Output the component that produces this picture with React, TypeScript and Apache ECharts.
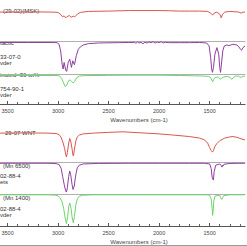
import React, { useEffect, useRef } from "react";
import * as echarts from "echarts";

const W_MIN = 1150;
const W_MAX = 3575;
const majorTicks = [1500, 2000, 2500, 3000, 3500];
const minorTicks = [1200, 1300, 1400, 1500, 1600, 1700, 1800, 1900, 2000, 2100, 2200, 2300, 2400, 2500, 2600, 2700, 2800, 2900, 3000, 3100, 3200, 3300, 3400, 3500];
const axisTitle = "Wavenumbers (cm-1)";

// Top panel spectra (wavenumber, %T)
const redTop = [[3575,85],[3400,85],[3200,85.5],[3050,85],[3000,84],[2970,77],[2955,71],[2940,74],[2925,68],[2915,71],[2890,75],[2870,70],[2850,73],[2835,71],[2810,79],[2780,84],[2700,87],[2500,88],[2300,89.5],[2100,89.5],[2000,89.5],[1900,89],[1800,88],[1700,88],[1600,88],[1520,87],[1490,82],[1470,76],[1455,82],[1430,85],[1400,79],[1385,68],[1372,79],[1350,85],[1300,87],[1250,86],[1210,85],[1190,82],[1170,85],[1150,85]];
const purpleTop = [[3575,95.5],[3300,95.5],[3100,95.5],[3010,95],[2990,90],[2975,70],[2960,30],[2950,15],[2940,35],[2925,12],[2915,8],[2900,35],[2885,45],[2868,20],[2855,40],[2838,28],[2820,55],[2800,75],[2780,82],[2750,88],[2700,92],[2600,94],[2400,95],[2300,95.5],[2240,96],[2230,93],[2215,97],[2200,94],[2180,96],[2160,92],[2140,96],[2120,94],[2100,97],[2080,95],[2060,98],[2040,94],[2020,97],[2000,95],[1980,98],[1960,94],[1940,96],[1900,95],[1800,95],[1700,95],[1600,95.5],[1530,94],[1505,85],[1490,50],[1480,15],[1472,5],[1462,20],[1448,60],[1428,80],[1410,60],[1400,20],[1392,5],[1383,30],[1370,70],[1355,85],[1330,88],[1310,86],[1290,88],[1270,90],[1250,89],[1230,88],[1210,82],[1195,75],[1185,72],[1170,80],[1150,85]];
const greenTop = [[3575,95],[3300,95],[3100,95],[3010,95],[2985,93],[2965,85],[2945,70],[2930,58],[2915,62],[2895,78],[2880,80],[2865,75],[2850,70],[2835,76],[2815,88],[2790,93],[2750,94.5],[2500,95.5],[2300,96],[2000,96],[1800,95],[1650,94],[1550,93],[1510,92],[1490,88],[1478,80],[1470,74],[1460,82],[1445,88],[1425,90],[1410,88],[1395,83],[1382,86],[1360,90],[1320,92],[1295,88],[1282,82],[1268,87],[1245,93],[1215,93],[1200,90],[1185,89],[1170,92],[1150,93]];

// Bottom panel spectra (wavenumber, %T)
const redBottom = [[3575,76],[3300,76.5],[3100,76],[3020,75],[2990,72],[2970,65],[2950,50],[2935,35],[2925,20],[2917,13],[2908,25],[2895,50],[2885,62],[2875,55],[2862,35],[2853,18],[2848,16],[2840,30],[2825,55],[2810,66],[2790,71],[2750,74],[2650,76],[2500,78],[2358,79.5],[2200,77],[2000,74],[1865,71],[1700,67],[1600,63],[1550,58],[1520,50],[1500,38],[1485,30],[1472,26],[1462,30],[1450,40],[1430,48],[1400,56],[1350,63],[1300,66],[1270,67],[1230,65],[1200,62],[1150,58]];
const purpleBottom = [[3575,96],[3100,96],[3020,95],[2990,92],[2970,80],[2955,55],[2940,30],[2925,10],[2917,6],[2908,20],[2895,55],[2885,72],[2875,60],[2862,30],[2852,14],[2848,12.5],[2840,25],[2825,60],[2810,82],[2790,90],[2750,94],[2600,95.5],[2300,96],[2000,96],[1700,96],[1550,96],[1500,94],[1485,80],[1475,52],[1470,46],[1463,44],[1455,70],[1440,90],[1400,94],[1388,90],[1378,84],[1372,90],[1366,88],[1358,93],[1300,95.5],[1200,96],[1150,96]];
const greenBottom = [[3575,97.5],[3100,97.5],[3030,96.5],[3000,94],[2980,88],[2960,75],[2945,55],[2930,25],[2917,7],[2905,30],[2895,60],[2885,72],[2872,55],[2860,25],[2849,10],[2838,30],[2825,65],[2810,85],[2790,93],[2760,96],[2650,97.5],[2300,97.5],[2000,97.5],[1700,97.5],[1530,97.5],[1500,96],[1485,85],[1475,55],[1470,33],[1465,50],[1458,80],[1445,94],[1400,96],[1390,88],[1380,83],[1372,88],[1360,95],[1300,97.5],[1150,97.5]];

const spectra = [redTop, purpleTop, greenTop, redBottom, purpleBottom, greenBottom];
const colors = ["#d9574f", "#8f3e9f", "#6dd36d", "#d9574f", "#8f3e9f", "#6dd36d"];

const titlesTop = ["(29-02)(MSK)", "tactic", "33-07-0", "vder", "inated  36 wt%", "754-90-1", "vder"];
const titlesBottom = ["29-07 WNT", "(Mn 6500)", "02-88-4", "ets", "(Mn 1400)", "02-88-4", "vder"];

const panes = [
  { top: 7, height: 34 },
  { top: 41, height: 33 },
  { top: 74, height: 30 },
  { top: 124, height: 38 },
  { top: 162, height: 32 },
  { top: 194, height: 32 },
];
const titleY = [11, 43, 57, 63.5, 75.5, 89.5, 95.5, 133.5, 166.5, 176, 182, 198, 209, 215];
const titleX = [3, 0, 0, 0, 0, 0, 0, 5, 3, 0, 0, 3, 0, 0];

export default function App() {
  const ref = useRef<HTMLDivElement>(null);
  useEffect(() => {
    document.body.style.margin = "0";
    if (!ref.current) return;
    const chart = echarts.init(ref.current, null, { renderer: "svg" });
    const font = "Liberation Sans, Arial, sans-serif";
    const grids: any[] = [];
    const xAxes: any[] = [];
    const yAxes: any[] = [];
    const series: any[] = [];
    panes.forEach((p, i) => {
      grids.push({ left: 0, right: 2, top: p.top, height: p.height, containLabel: false, outerBoundsMode: "none" });
      const base = {
        type: "value", gridIndex: i, min: W_MIN, max: W_MAX, inverse: true,
        splitLine: { show: false }, axisLabel: { show: false }, axisTick: { show: false },
      };
      xAxes.push({ ...base, position: "top", axisLine: { show: true, lineStyle: { color: "#b0b0b0", width: 1 } } });
      const xi = xAxes.length - 1;
      if (i === 2 || i === 5) {
        xAxes.push({
          ...base, position: "bottom",
          axisLine: { show: true, lineStyle: { color: "#555", width: 1 } },
          axisTick: { show: true, inside: true, length: 2, customValues: minorTicks, lineStyle: { color: "#666" } },
        });
        xAxes.push({
          ...base, position: "bottom",
          axisLine: { show: false },
          axisTick: { show: true, inside: true, length: 3, customValues: majorTicks, lineStyle: { color: "#555" } },
          axisLabel: {
            show: true, customValues: majorTicks, fontSize: 5.5, color: "#444", margin: 4, fontFamily: font,
            formatter: (v: number) => String(v),
          },
        });
      }
      yAxes.push({ type: "value", gridIndex: i, min: 0, max: 100, show: false });
      series.push({
        type: "line", xAxisIndex: xi, yAxisIndex: i, data: spectra[i], showSymbol: false,
        lineStyle: { color: colors[i], width: 1 }, itemStyle: { color: colors[i] }, silent: true,
      });
    });
    const allTitles = [...titlesTop, ...titlesBottom];
    const graphic: any[] = allTitles.map((t, k) => ({
      type: "text", left: titleX[k], top: titleY[k] - 3.5,
      style: { text: t, fontSize: 6, fill: "#333", fontFamily: font },
    }));
    graphic.push({ type: "text", x: 139, y: 119.5, style: { text: axisTitle, fontSize: 6, fill: "#444", fontFamily: font, align: "center", verticalAlign: "middle" } });
    graphic.push({ type: "text", x: 139, y: 241.5, style: { text: axisTitle, fontSize: 6, fill: "#444", fontFamily: font, align: "center", verticalAlign: "middle" } });
    graphic.push({ type: "line", shape: { x1: 0, y1: 245.5, x2: 247, y2: 245.5 }, style: { stroke: "#999", lineWidth: 1 } });
    chart.setOption({
      animation: false,
      backgroundColor: "#fff",
      grid: grids,
      xAxis: xAxes,
      yAxis: yAxes,
      series,
      graphic,
    });
    return () => chart.dispose();
  }, []);
  return <div ref={ref} style={{ position: "fixed", left: 0, top: 0, width: 247, height: 246 }} />;
}
